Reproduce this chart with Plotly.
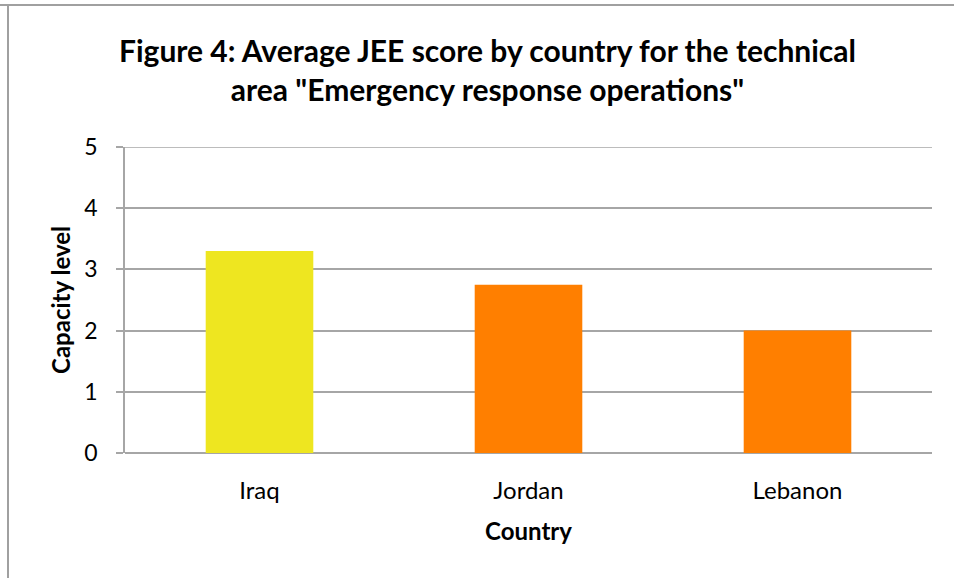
import plotly.graph_objects as go

countries = ["Iraq", "Jordan", "Lebanon"]
scores = [3.3, 2.75, 2.0]
bar_colors = ["#EEE620", "#FF7F00", "#FF7F00"]
y_ticks = [0, 1, 2, 3, 4, 5]

FONT = "Lato"
GRID = "#A6A6A6"

fig = go.Figure()
fig.add_trace(go.Bar(
    x=countries,
    y=scores,
    marker=dict(color=bar_colors, line=dict(width=0)),
    width=0.4,
))

fig.update_layout(
    width=954,
    height=578,
    margin=dict(l=125, r=22, t=147, b=125),
    paper_bgcolor="white",
    plot_bgcolor="white",
    showlegend=False,
    font=dict(family=FONT, color="black"),
    title=dict(
        text="Figure 4: Average JEE score by country for the technical<br>area \"Emergency response operations\"",
        x=0.511,
        xanchor="center",
        y=0.892,
        yanchor="top",
        font=dict(family=FONT, size=30, color="black", weight="bold"),
    ),
    xaxis=dict(
        showgrid=False,
        showline=False,
        ticks="",
        tickfont=dict(size=24),
        ticklabelstandoff=21,
        title=dict(text="Country", font=dict(size=24, weight="bold"), standoff=20),
    ),
    yaxis=dict(
        range=[0, 5],
        tickvals=y_ticks,
        showgrid=True,
        gridcolor=GRID,
        gridwidth=1.5,
        showline=True,
        linecolor=GRID,
        linewidth=1.5,
        ticks="outside",
        ticklen=7,
        tickcolor=GRID,
        tickwidth=1.5,
        tickfont=dict(size=23),
        ticklabelstandoff=14,
        zeroline=True,
        zerolinecolor=GRID,
        zerolinewidth=1.5,
        title=dict(text="Capacity level", font=dict(size=24, weight="bold"), standoff=7),
    ),
    shapes=[
        # top gridline at the upper end of the value axis
        dict(type="line", xref="paper", yref="y", x0=0, x1=1,
             y0=y_ticks[-1], y1=y_ticks[-1], line=dict(color=GRID, width=1.5)),
        # frame edges around the chart
        dict(type="line", xref="paper", yref="paper", x0=-125/807, x1=1 + 22/807,
             y0=1 + 142/306, y1=1 + 142/306, line=dict(color="#A0A0A0", width=2)),
        dict(type="line", xref="paper", yref="paper", x0=-117/807, x1=-117/807,
             y0=-125/306, y1=1 + 142/306, line=dict(color="#A0A0A0", width=2)),
    ],
)

fig.write_html("out.html")
